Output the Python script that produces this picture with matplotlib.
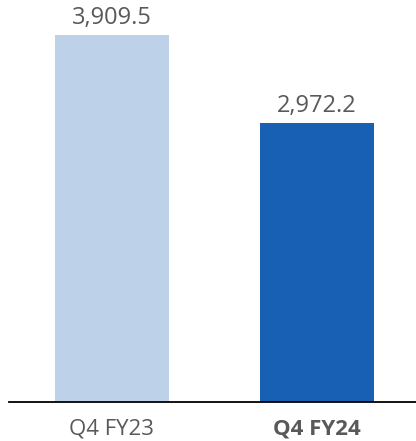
import matplotlib.pyplot as plt

categories = ['Q4 FY23', 'Q4 FY24']
values = [3909.5, 2972.2]
colors = ['#BDD1E9', '#1860B4']

plt.rcParams['font.family'] = ['Open Sans', 'DejaVu Sans']

fig = plt.figure(figsize=(4.16, 4.41), dpi=100)
ax = fig.add_axes([9 / 416, 39 / 441, 1 - 9 / 416, 402 / 441])

x = [0, 1]
bars = ax.bar(x, values, width=0.556, color=colors)

# value labels above bars
for xi, v in zip(x, values):
    ax.text(xi, v + 50, f'{v:,.1f}', ha='center', va='bottom',
            fontsize=17, color='#595959')

ax.set_xlim(-0.502, 1.483)
ax.set_ylim(0, 3909.5 * 402 / 367)

for s in ['top', 'right', 'left']:
    ax.spines[s].set_visible(False)
ax.spines['bottom'].set_color('#000000')
ax.spines['bottom'].set_linewidth(1.3)
ax.set_yticks([])
ax.set_xticks(x)
ax.set_xticklabels(categories, fontsize=16, color='#595959')
ax.get_xticklabels()[1].set_fontweight('bold')
ax.tick_params(axis='x', length=0, pad=12)

fig.savefig('out.png', dpi=100)
